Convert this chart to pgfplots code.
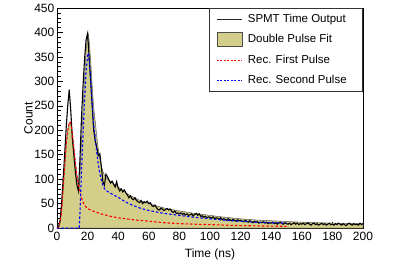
\documentclass[border=0pt]{standalone}
\usepackage{pgfplots}
\pgfplotsset{compat=1.18}
\usepackage{fontspec}
\setmainfont{Liberation Sans}
\definecolor{fitfill}{RGB}{211,206,137}
\pgfplotsset{
  linelegend/.style={legend image code/.code={\draw[##1] (0pt,0pt) -- (25.5pt,0pt);}},
  boxlegend/.style={legend image code/.code={\draw[##1] (0pt,-7pt) rectangle (25.5pt,7pt);}},
}
\begin{document}
\fontsize{11.5}{13}\selectfont
\begin{tikzpicture}
\begin{axis}[
  scale only axis, width=306pt, height=220pt,
  xmin=0, xmax=200, ymin=0, ymax=450,
  xtick distance=20, ytick distance=50,
  minor x tick num=4, minor y tick num=4,
  tick pos=left, tick align=inside,
  major tick length=6pt, minor tick length=3.5pt,
  every tick/.style={black, line width=0.6pt},
  axis line style={black, line width=0.7pt},
  /pgf/number format/assume math mode=true,
  tick label style={font=\fontsize{12}{14}\selectfont},
  yticklabel style={inner xsep=2.5pt},
  label style={font=\fontsize{12}{14}\selectfont},
  ylabel style={yshift=-5pt},
  xlabel={Time (ns)}, ylabel={Count},
  legend cell align=left,
  legend style={at={(1,1)}, anchor=north east, draw=black!80, line width=0.6pt,
    fill=white, inner xsep=7pt, inner ysep=0.5pt, row sep=0pt,
    font=\fontsize{11.5}{13}\selectfont,
    nodes={minimum height=20.5pt, inner xsep=0pt, inner ysep=0pt},
    /tikz/every odd column/.append style={column sep=5pt}},
]
% Double pulse fit (sum)
\addplot[fill=fitfill, draw=black!65, line width=0.5pt, forget plot] coordinates {
(0,0) (1,2) (2,12) (3,35) (4,80) (5,125) (6,170) (7,200) (8,215) (8.5,217) (9,214)
(10,195) (11,165) (12,135) (13,108) (14,90) (14.5,85) (15,105) (16,177) (17,243) (18,307)
(19,363) (20,392) (20.5,397) (21,384) (22,342) (23,291) (24,245) (25,218) (26,187)
(27,161) (28,142) (29,127) (30,116) (31,108) (32,103) (35,95) (40,84) (45,72) (50,63)
(55,55.5) (60,50) (70,41) (80,35) (90,30) (100,26) (110,22) (120,19) (130,16.5)
(140,15) (150,13.5) (160,12) (170,11) (180,10) (190,9.5) (200,9)
} \closedcycle;
% SPMT histogram
\addplot[color=black, line width=1.1pt, sharp plot, forget plot] coordinates {
(0,0) (1,3) (2,15) (3,50) (4,100) (5,150) (6,205) (7,250) (8,283) (9,240)
(10,185) (11,150) (12,115) (13,88) (14,76) (15,140) (16,225) (17,290) (18,345) (19,385)
(20,398) (21,350) (22,300) (23,250) (24,200) (25,178) (26,165) (27,148) (28,152) (29,125)
(30,95) (31,88) (32,110) (33,105) (34,98) (35,92) (36,96) (37,90) (38,84) (39,95)
(40,82) (41,76) (42,80) (43,74) (44,78) (45,72) (46,68) (47,62) (48,66) (49,60)
(50,58) (51,62) (52,56) (53,54) (54,52) (55,56) (56,50) (57,54) (58,52) (59,55)
(60,50) (61,52) (62,46) (63,44) (64,47) (65,42) (66,38) (67,37) (68,41) (69,38)
(70,36) (71,38) (72,40) (73,37) (74,39) (75,34) (76,32) (77,35) (78,30) (79,31)
(80,29) (81,31) (82,28) (83,30) (84,27) (85,29) (86,26) (87,27) (88,29) (89,25)
(90,28) (91,30) (92,26) (93,29) (94,24) (95,25) (96,22) (97,24) (98,21) (99,23)
(100,22) (101,20) (102,23) (103,19) (104,21) (105,20) (106,18) (107,21) (108,17) (109,19)
(110,18) (111,16) (112,19) (113,17) (114,15) (115,18) (116,16) (117,14) (118,17) (119,15)
(120,16) (121,14) (122,13) (123,16) (124,14) (125,12) (126,15) (127,13) (128,11) (129,14)
(130,12) (131,13) (132,10) (133,12) (134,11) (135,13) (136,10) (137,12) (138,9) (139,11)
(140,10) (141,12) (142,9) (143,11) (144,8) (145,10) (146,12) (147,9) (148,8) (149,11)
(150,9) (151,8) (152,10) (153,7) (154,9) (155,11) (156,8) (157,10) (158,7) (159,9)
(160,8) (161,10) (162,7) (163,9) (164,11) (165,8) (166,6) (167,9) (168,10) (169,7)
(170,9) (171,6) (172,8) (173,10) (174,7) (175,9) (176,6) (177,8) (178,10) (179,7)
(180,8) (181,6) (182,9) (183,7) (184,10) (185,8) (186,6) (187,9) (188,7) (189,5)
(190,8) (191,10) (192,7) (193,6) (194,9) (195,7) (196,8) (197,6) (198,10) (199,7) (200,9)
};
% First pulse
\addplot[color=red, line width=1.1pt, dash pattern=on 2.5pt off 2pt, forget plot] coordinates {
(0,0) (1,2) (2,12) (3,35) (4,80) (5,125) (6,170) (7,200) (8,215) (8.5,217) (9,214)
(10,195) (11,165) (12,135) (13,108) (14,90) (15,75) (16,62) (17,53) (18,47) (19,43)
(20,40) (22,37) (25,33) (30,28) (35,24) (40,21) (50,17) (60,14) (70,11) (80,9)
(90,8) (100,7) (110,6) (120,5) (130,4.5) (140,4) (150,3.5)
};
% Second pulse
\addplot[color=blue, line width=1.1pt, dash pattern=on 2.5pt off 2pt, forget plot] coordinates {
(0,0) (14,0) (14.5,0) (15,30) (16,115) (17,190) (18,260) (19,320) (20,352) (20.5,358)
(21,345) (22,305) (23,255) (24,210) (25,185) (26,155) (27,130) (28,112) (29,98)
(30,88) (31,81) (32,77) (35,71) (40,63) (45,53) (50,46) (55,40) (60,36) (70,30)
(80,26) (90,22) (100,19) (110,16) (120,14) (130,12) (140,11) (150,10)
};
\addlegendimage{draw=black!85, line width=0.9pt, linelegend}
\addlegendentry{SPMT Time Output}
\addlegendimage{fill=fitfill, draw=black!70, line width=0.6pt, boxlegend}
\addlegendentry{Double Pulse Fit}
\addlegendimage{draw=red, line width=1pt, dash pattern=on 2pt off 1.5pt, linelegend}
\addlegendentry{Rec. First Pulse}
\addlegendimage{draw=blue, line width=1pt, dash pattern=on 2pt off 1.5pt, linelegend}
\addlegendentry{Rec. Second Pulse\hspace*{9pt}}
\end{axis}
\path (current axis.south west) ++(-57pt,-29pt) rectangle ([shift={(44pt,6pt)}]current axis.north east);
\end{tikzpicture}
\end{document}
